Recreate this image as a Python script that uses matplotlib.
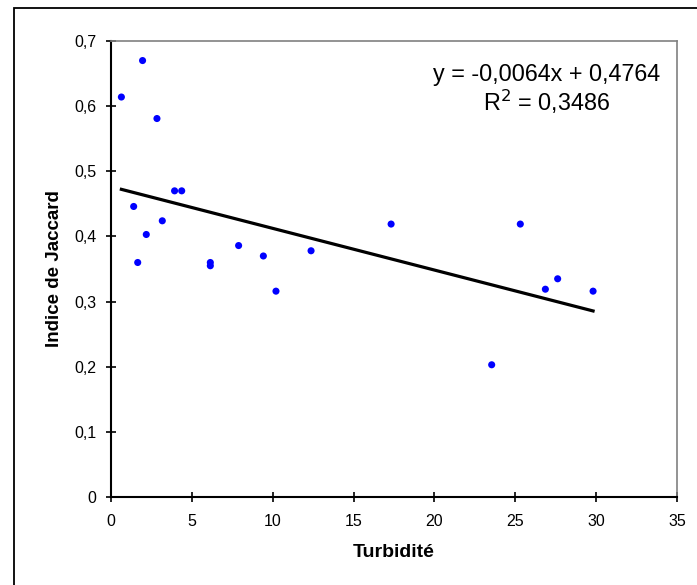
import numpy as np
import matplotlib
matplotlib.use("Agg")
import matplotlib.pyplot as plt
from matplotlib.patches import Rectangle

plt.rcParams['font.family'] = ['Liberation Sans', 'DejaVu Sans']

# values
turbidite = [0.64, 1.95, 2.84, 3.93, 4.37, 1.40, 3.17, 2.18, 1.65, 6.14, 6.14,
             7.89, 9.42, 12.37, 10.20, 17.32, 25.31, 27.62, 26.86, 29.81, 23.54]
jaccard = [0.614, 0.670, 0.581, 0.470, 0.470, 0.446, 0.424, 0.403, 0.360, 0.360, 0.355,
           0.386, 0.370, 0.378, 0.316, 0.419, 0.419, 0.335, 0.319, 0.316, 0.203]

# trendline as printed on the chart
slope = -0.0064
intercept = 0.4764
r2 = 0.3486

x_ticks = [0, 5, 10, 15, 20, 25, 30, 35]
y_ticks = [0, 0.1, 0.2, 0.3, 0.4, 0.5, 0.6, 0.7]


def fr(v, nd):
    return f"{v:.{nd}f}".replace(".", ",")


fig = plt.figure(figsize=(6.97, 5.85), dpi=100)
ax = fig.add_axes([0.1593, 0.1504, 0.8120, 0.7795])

# outer chart frame (cut at right/bottom edges like the reference)
fig.patches.append(Rectangle((14 / 697, -0.02), 1.1, (585 - 8) / 585 + 0.02,
                             transform=fig.transFigure, fill=False,
                             edgecolor='black', linewidth=1.3))

ax.scatter(turbidite, jaccard, s=26, color='#0000FF', edgecolors='none', zorder=3)

xl = np.array([min(turbidite), max(turbidite)])
ax.plot(xl, slope * xl + intercept, color='black', linewidth=2.3, zorder=2)

ax.set_xlim(0, 35)
ax.set_ylim(0, 0.7)
ax.set_xticks(x_ticks)
ax.set_xticklabels([str(t) for t in x_ticks])
ax.set_yticks(y_ticks)
ax.set_yticklabels(["0"] + [fr(t, 1) for t in y_ticks[1:]])
ax.tick_params(direction='inout', length=7, width=1.2, labelsize=11.5)
ax.tick_params(axis='x', pad=8.5)
ax.tick_params(axis='y', pad=7.2)

for s in ['left', 'bottom']:
    ax.spines[s].set_color('black')
    ax.spines[s].set_linewidth(1.5)
for s in ['top', 'right']:
    ax.spines[s].set_color('#808080')
    ax.spines[s].set_linewidth(1.2)

ax.set_xlabel("Turbidité", fontsize=14, fontweight='bold', labelpad=11)
ax.set_ylabel("Indice de Jaccard", fontsize=13.5, fontweight='bold', labelpad=8)

eq = f"y = {fr(slope, 4)}x + {fr(intercept, 4)}\nR$^2$ = {fr(r2, 4)}"
ax.text(0.770, 0.894, eq, transform=ax.transAxes, ha='center', va='center',
        fontsize=16.8, linespacing=1.1)

fig.savefig("out.png", dpi=100)
